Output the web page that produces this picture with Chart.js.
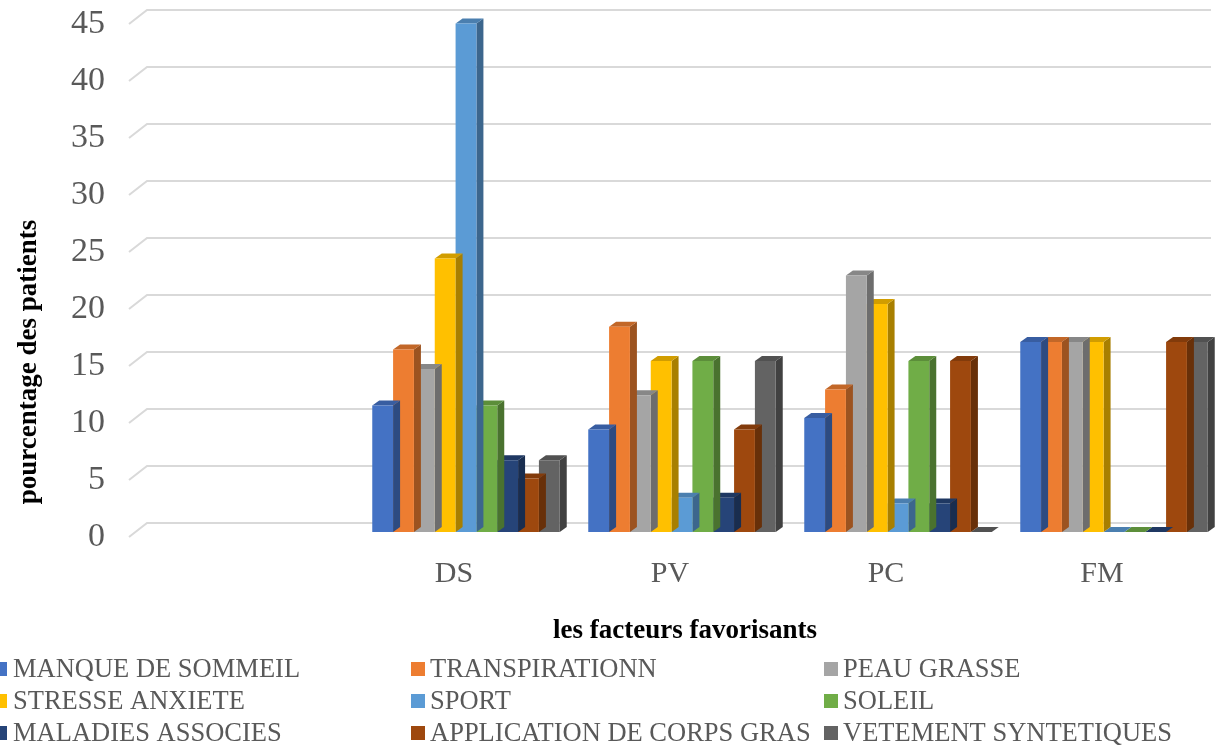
<!DOCTYPE html>
<html>
<head>
<meta charset="utf-8">
<script src="https://cdn.jsdelivr.net/npm/chart.js@4.4.1/dist/chart.umd.min.js"></script>
<style>
  html, body { margin: 0; padding: 0; background: #ffffff; }
  #wrap { position: relative; width: 1232px; height: 746px; }
</style>
</head>
<body>
<div id="wrap"><canvas id="chart"></canvas></div>
<script>
// Categories (the first slot is left empty on the axis)
const categories = ['', 'DS', 'PV', 'PC', 'FM'];

// Percentage of patients per favouring factor
const manqueDeSommeil   = [null, 11.1, 9,  10,   16.67];
const transpiration     = [null, 16,   18, 12.5, 16.67];
const peauGrasse        = [null, 14.3, 12, 22.5, 16.67];
const stresseAnxiete    = [null, 24,   15, 20,   16.67];
const sport             = [null, 44.6, 3,  2.5,  0];
const soleil            = [null, 11.1, 15, 15,   0];
const maladiesAssocies  = [null, 6.3,  3,  2.5,  0];
const applicationCorps  = [null, 4.7,  9,  15,   16.67];
const vetementSynth     = [null, 6.3,  15, 0,    16.67];

const seriesNames = [
  'MANQUE DE SOMMEIL', 'TRANSPIRATIONN', 'PEAU GRASSE',
  'STRESSE ANXIETE', 'SPORT', 'SOLEIL',
  'MALADIES ASSOCIES', 'APPLICATION DE CORPS GRAS', 'VETEMENT SYNTETIQUES'
];
const seriesValues = [
  manqueDeSommeil, transpiration, peauGrasse,
  stresseAnxiete, sport, soleil,
  maladiesAssocies, applicationCorps, vetementSynth
];
const seriesColors = [
  '#4472C4', '#ED7D31', '#A5A5A5',
  '#FFC000', '#5B9BD5', '#70AD47',
  '#264478', '#9E480E', '#636363'
];

const yTicks = [0, 5, 10, 15, 20, 25, 30, 35, 40, 45];
const yTitle = 'pourcentage des patients';
const xTitle = 'les facteurs favorisants';

const SERIF = '"Liberation Serif", "Times New Roman", serif';
const TEXT_GREY = '#595959';
const DEPTH_X = 7, DEPTH_Y = 5;      // projected bar depth
const WALL_DX = 18, WALL_UP = 9, FLOOR_DOWN = 5; // back wall offset

function shade(hex, f) {
  const n = parseInt(hex.slice(1), 16);
  const r = Math.round(((n >> 16) & 255) * f);
  const g = Math.round(((n >> 8) & 255) * f);
  const b = Math.round((n & 255) * f);
  return `rgb(${r},${g},${b})`;
}

// Back-wall gridlines with the slanted floor edge on the left
const wallGrid = {
  id: 'wallGrid',
  beforeDatasetsDraw(chart) {
    const { ctx, chartArea } = chart;
    const ys = chart.scales.y;
    ctx.save();
    ctx.strokeStyle = '#D9D9D9';
    ctx.lineWidth = 2;
    const xFront = chartArea.left - 13;
    const xBack = xFront + WALL_DX;
    const xRight = chartArea.right - 11;
    yTicks.forEach(v => {
      const yf = ys.getPixelForValue(v);
      ctx.beginPath();
      ctx.moveTo(xFront, yf + FLOOR_DOWN);
      ctx.lineTo(xBack, yf - WALL_UP);
      ctx.lineTo(xRight, yf - WALL_UP);
      ctx.stroke();
    });
    ctx.restore();
  }
};

// Side and top faces of each column, drawn just before its front face
const columnDepth = {
  id: 'columnDepth',
  beforeDatasetDraw(chart, args) {
    const ctx = chart.ctx;
    const ds = chart.data.datasets[args.index];
    const col = ds.backgroundColor;
    args.meta.data.forEach((bar, i) => {
      if (ds.data[i] == null) return;
      const p = bar.getProps(['x', 'y', 'base', 'width'], true);
      const x0 = p.x - p.width / 2, x1 = p.x + p.width / 2;
      const top = p.y, base = p.base;
      ctx.save();
      ctx.fillStyle = shade(col, 0.66);
      ctx.beginPath();
      ctx.moveTo(x1, top);
      ctx.lineTo(x1 + DEPTH_X, top - DEPTH_Y);
      ctx.lineTo(x1 + DEPTH_X, base - DEPTH_Y);
      ctx.lineTo(x1, base);
      ctx.closePath();
      ctx.fill();
      ctx.fillStyle = shade(col, 0.82);
      ctx.beginPath();
      ctx.moveTo(x0, top);
      ctx.lineTo(x0 + DEPTH_X, top - DEPTH_Y);
      ctx.lineTo(x1 + DEPTH_X, top - DEPTH_Y);
      ctx.lineTo(x1, top);
      ctx.closePath();
      ctx.fill();
      ctx.restore();
    });
  }
};

// Axis titles and the three-column legend
const titlesAndLegend = {
  id: 'titlesAndLegend',
  afterDraw(chart) {
    const ctx = chart.ctx;
    ctx.save();
    ctx.fillStyle = '#000000';
    ctx.font = `bold 27px ${SERIF}`;
    ctx.textAlign = 'center';
    ctx.textBaseline = 'alphabetic';
    ctx.fillText(xTitle, 685, 638);
    ctx.save();
    ctx.translate(36, 362);
    ctx.rotate(-Math.PI / 2);
    ctx.fillText(yTitle, 0, 0);
    ctx.restore();

    const markX = [-7, 411, 824];
    const textX = [13, 430, 843];
    const rowBase = [677, 709, 741];
    ctx.font = `26.5px ${SERIF}`;
    ctx.textAlign = 'left';
    chart.data.datasets.forEach((ds, i) => {
      const c = i % 3, r = Math.floor(i / 3);
      ctx.fillStyle = ds.backgroundColor;
      ctx.fillRect(markX[c], rowBase[r] - 15, 14, 14);
      ctx.fillStyle = TEXT_GREY;
      ctx.fillText(ds.label, textX[c], rowBase[r]);
    });
    ctx.restore();
  }
};

const datasets = seriesNames.map((name, i) => ({
  label: name,
  data: seriesValues[i],
  backgroundColor: seriesColors[i],
  borderWidth: 0
}));

new Chart(document.getElementById('chart'), {
  type: 'bar',
  data: { labels: categories, datasets },
  plugins: [wallGrid, columnDepth, titlesAndLegend],
  options: {
    responsive: true,
    maintainAspectRatio: false,
    animation: false,
    layout: { padding: { top: 19, right: 10, left: 0, bottom: 0 } },
    plugins: { legend: { display: false }, tooltip: { enabled: false } },
    datasets: { bar: { categoryPercentage: 0.868, barPercentage: 1 } },
    scales: {
      x: {
        grid: { display: false, drawTicks: false },
        border: { display: false },
        ticks: {
          color: TEXT_GREY,
          font: { family: SERIF, size: 30 },
          padding: 24,
          labelOffset: -12,
          maxRotation: 0,
          autoSkip: false
        },
        afterFit(scale) {
          scale.height = 214;
          scale.paddingLeft = 0;
          scale.paddingRight = 0;
        }
      },
      y: {
        min: 0,
        max: 45,
        grid: { display: false, drawTicks: false },
        border: { display: false },
        afterBuildTicks(scale) { scale.ticks = yTicks.map(v => ({ value: v })); },
        ticks: {
          color: TEXT_GREY,
          font: { family: SERIF, size: 34 },
          padding: 37,
          labelOffset: 5
        },
        afterFit(scale) {
          scale.width = 142;
          scale.paddingTop = 0;
          scale.paddingBottom = 0;
        }
      }
    }
  }
});
</script>
</body>
</html>
